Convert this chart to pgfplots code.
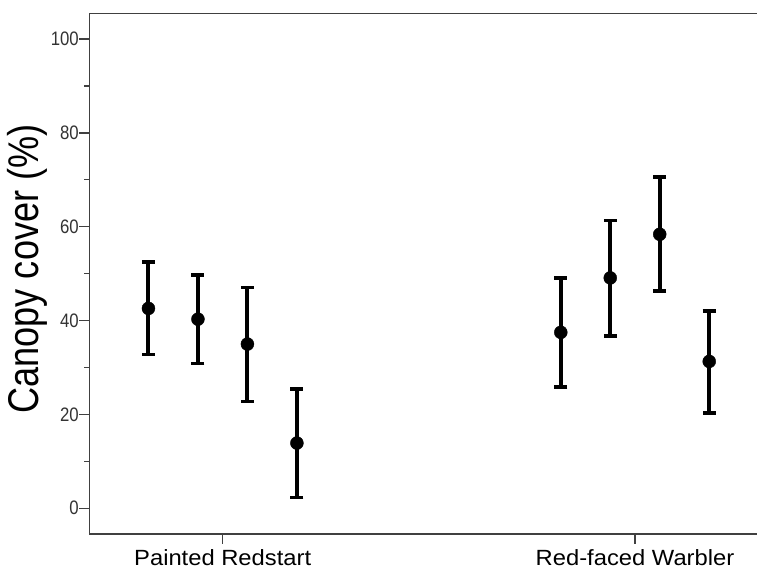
\documentclass[border=0pt]{standalone}
\usepackage{fontspec}
\setmainfont{Liberation Sans}
\usepackage{graphicx}
\usepackage{pgfplots}
\usepackage{pgfplotstable}
\pgfplotsset{compat=1.18}
\definecolor{axgray}{HTML}{404040}
\definecolor{lblgray}{HTML}{333333}
\newcommand\yt[1]{\scalebox{0.86}[1]{#1}}
\newcommand\xt[1]{\scalebox{1.08}[1]{#1}}
% x: group position + offset; y: mean; ep/em: upper/lower error
\pgfplotstableread{
x      y     ep    em
0.82   42.6  9.9   9.8
0.94   40.3  9.4   9.4
1.06   35.0  12.1  12.2
1.18   13.9  11.5  11.6
1.82   37.5  11.6  11.7
1.94   49.1  12.2  12.4
2.06   58.4  12.2  12.1
2.18   31.3  10.8  11.0
}\datatable
\begin{document}
\begin{tikzpicture}
\begin{axis}[
  name=ax,
  scale only axis, width=667.7pt, height=520.7pt,
  xmin=0.6765, xmax=2.2959, ymin=-5.48, ymax=105.5,
  axis x line*=box, axis y line*=left,
  xtick={1,2}, xticklabels={\xt{Painted Redstart}, \xt{Red-faced Warbler}},
  xtick pos=bottom,
  ytick={0,20,40,60,80,100},
  yticklabels={\yt{0},\yt{20},\yt{40},\yt{60},\yt{80},\yt{100}},
  minor ytick={10,30,50,70,90},
  tick align=outside,
  major tick length=10pt, minor tick length=5pt,
  every tick/.style={color=axgray, line width=1.2pt},
  axis line style={color=axgray, line width=1.3pt},
  yticklabel style={font=\fontsize{19.5}{20}\selectfont, color=lblgray, inner sep=0pt, xshift=-0.3pt},
  xticklabel style={font=\fontsize{22}{24}\selectfont, color=black, inner sep=0pt, yshift=-5pt},
  ylabel={\scalebox{0.84}[1]{Canopy cover (\%)}},
  ylabel style={font=\fontsize{43}{48}\selectfont, at={(axis description cs:-0.0923,0.509)}, anchor=center, inner sep=0pt},
  clip=false,
]
\addplot[only marks, mark=*, mark size=6.5pt, color=black,
  error bars/.cd, y dir=both, y explicit,
  error bar style={line width=4pt, color=black},
  error mark options={rotate=90, line width=3.5pt, mark size=6.5pt, color=black}]
  table[x=x, y=y, y error plus=ep, y error minus=em] {\datatable};
\end{axis}
\pgfresetboundingbox
\path (ax.south west) ++(-89.3pt,-35pt) (ax.north east) ++(0pt,13.3pt);
\end{tikzpicture}
\end{document}
